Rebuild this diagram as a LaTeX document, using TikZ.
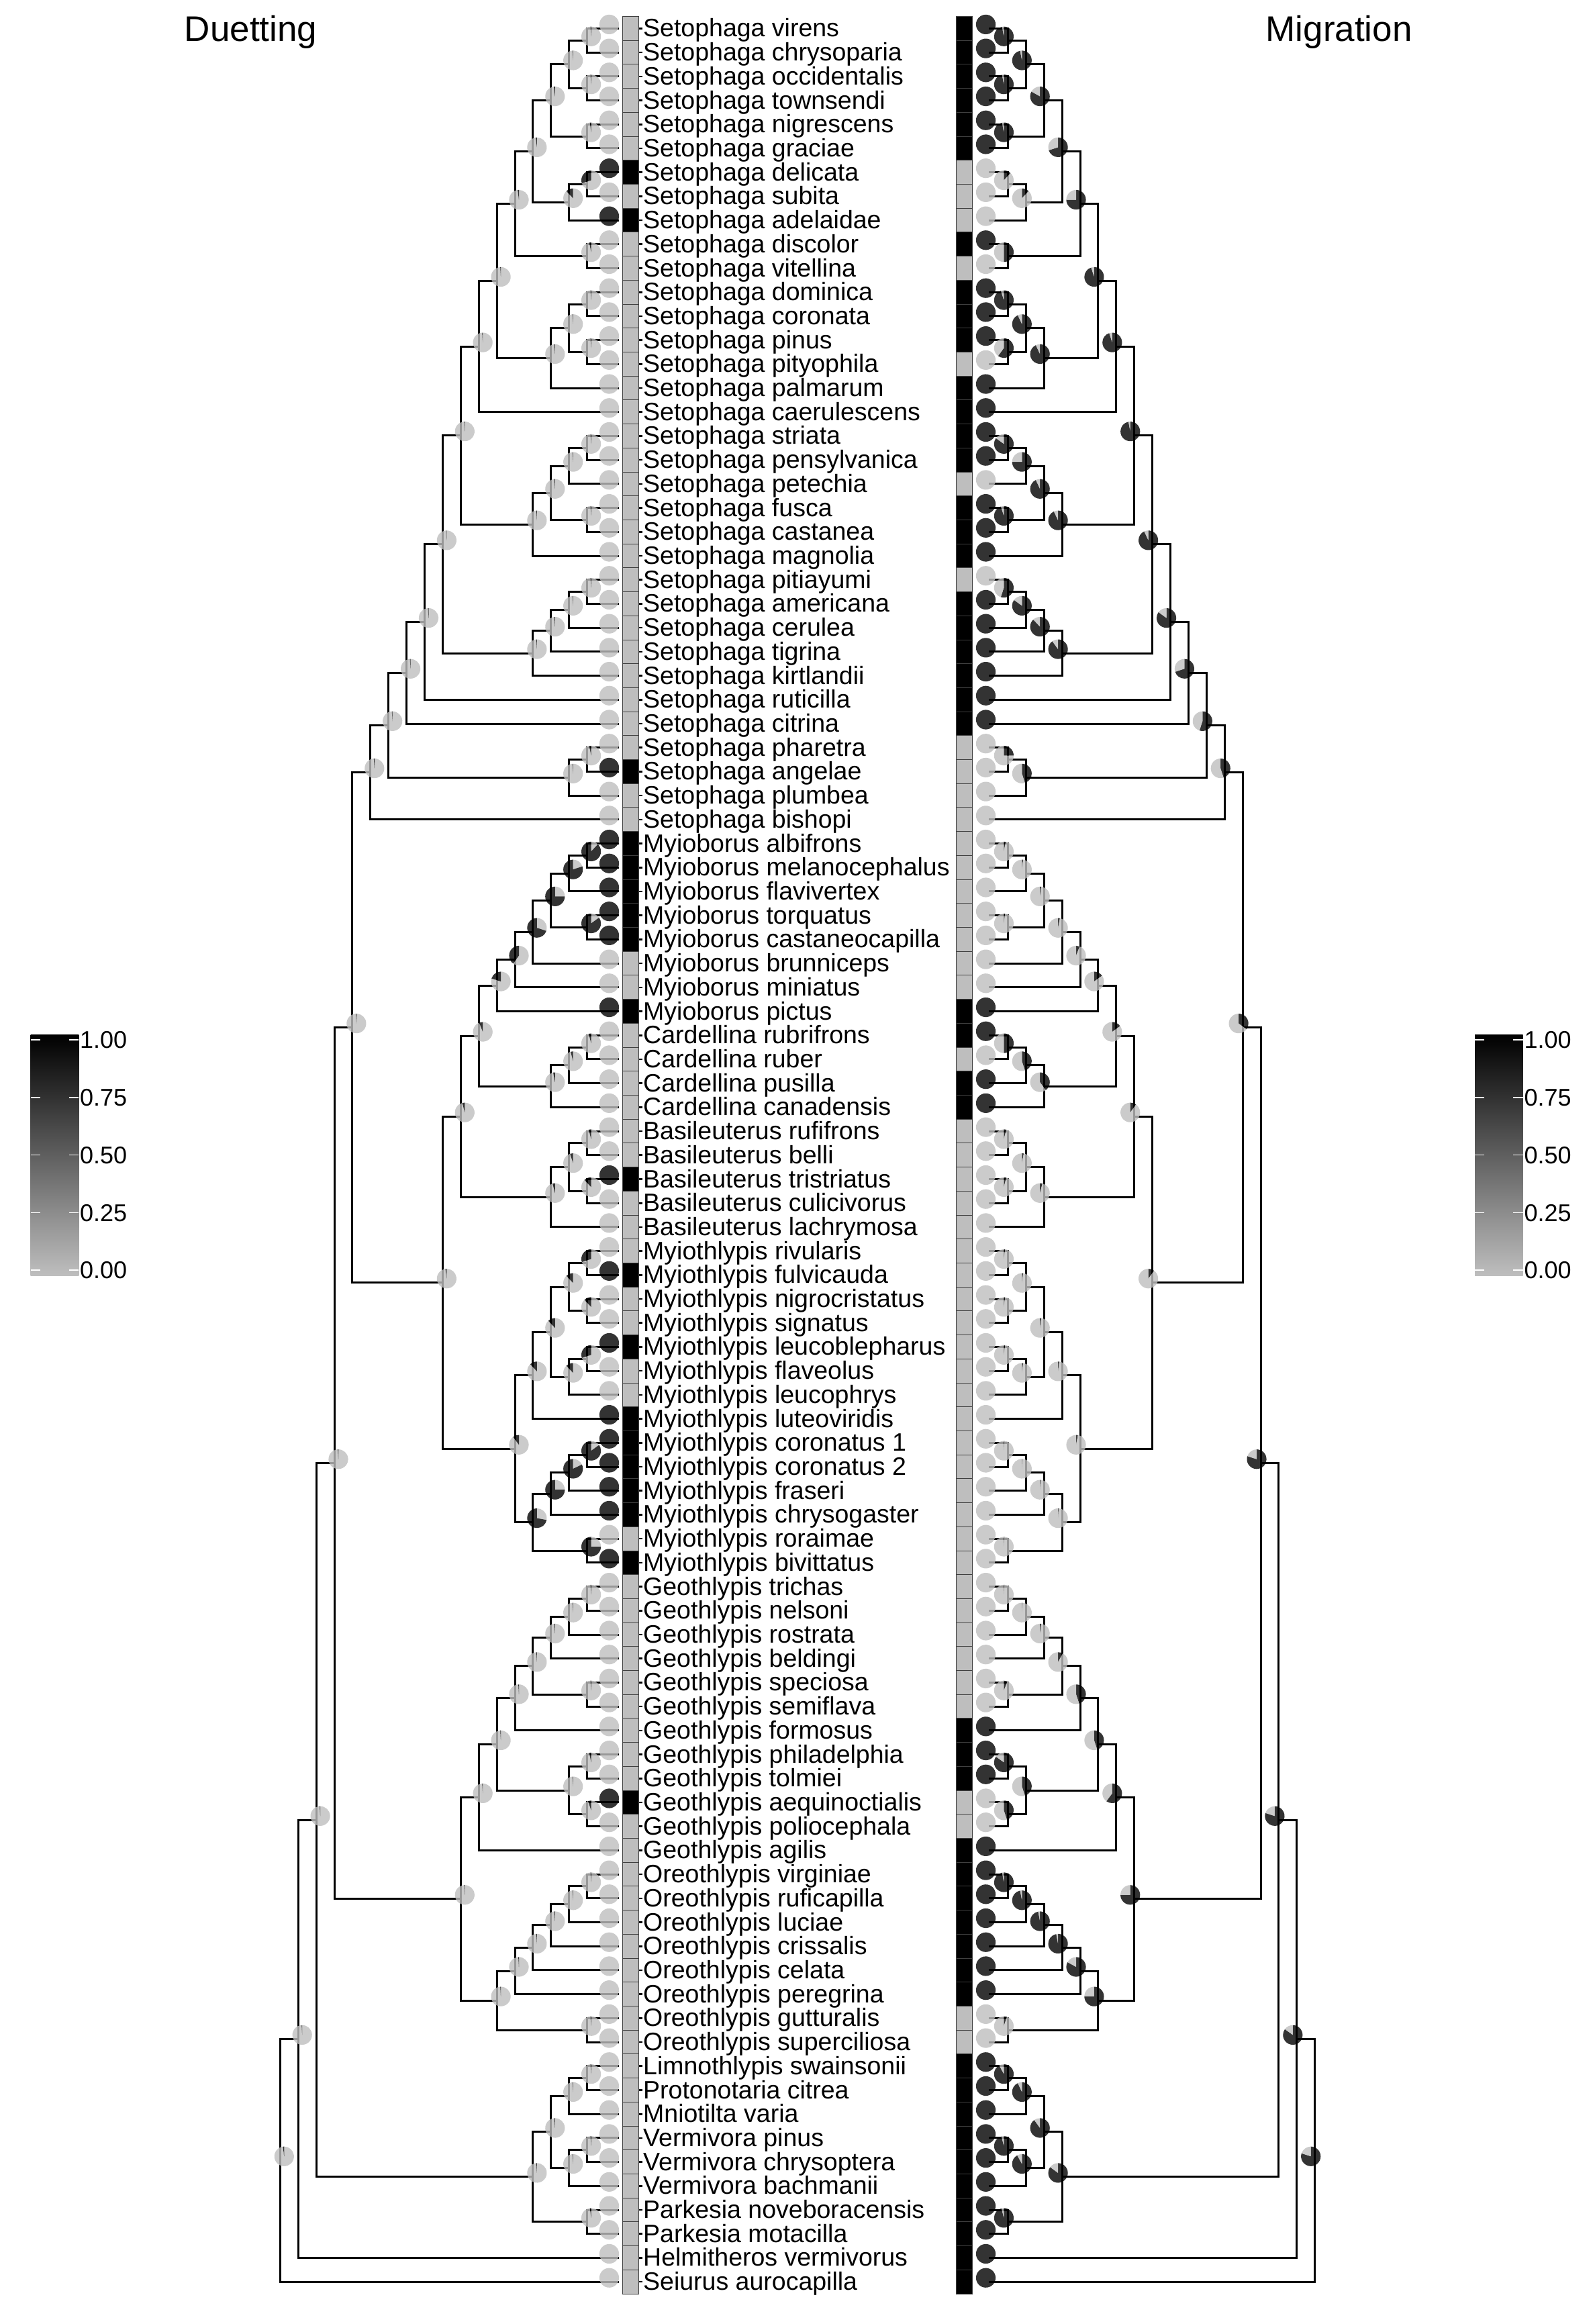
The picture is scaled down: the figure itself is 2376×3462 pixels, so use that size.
\documentclass[tikz,border=0pt]{standalone}
\usepackage{fontspec}
\setmainfont{Liberation Sans}
\definecolor{lg}{HTML}{BEBEBE}
\tikzset{
  br/.style={line width=3pt, line join=miter, line cap=rect},
  pg/.style={fill=lg, fill opacity=0.8},
  pk/.style={fill=black, fill opacity=0.8},
  sqbox/.style={draw=black!75, line width=1pt},
  lab/.style={font=\fontsize{37.5}{40}\selectfont, inner sep=0pt, anchor=base west},
  legtxt/.style={font=\fontsize{36}{40}\selectfont, inner sep=0pt, anchor=base west},
  ttl/.style={font=\fontsize{53}{56}\selectfont, inner sep=0pt, anchor=base west},
  tick/.style={white, line width=1.5pt},
}
\newcommand\pieRad{14.6}
% name, height, child1, child2, black fraction (duetting), black fraction (migration)
\newcommand\TREE{%
\nd{a12}{1}{t1}{t2}{0.01}{0.97}%
\nd{a34}{1}{t3}{t4}{0.01}{0.97}%
\nd{aA}{2}{a12}{a34}{0.01}{0.97}%
\nd{a56}{1}{t5}{t6}{0.02}{0.97}%
\nd{aB}{3}{aA}{a56}{0.02}{0.83}%
\nd{a78}{1}{t7}{t8}{0.3}{0.12}%
\nd{aC}{2}{a78}{t9}{0.12}{0.12}%
\nd{aD}{4}{aB}{aC}{0.02}{0.7}%
\nd{a1011}{1}{t10}{t11}{0.03}{0.5}%
\nd{aE}{5}{aD}{a1011}{0.02}{0.75}%
\nd{a1213}{1}{t12}{t13}{0.01}{0.95}%
\nd{a1415}{1}{t14}{t15}{0.01}{0.6}%
\nd{aFb}{2}{a1213}{a1415}{0.01}{0.93}%
\nd{aF}{3}{aFb}{t16}{0.01}{0.93}%
\nd{aG}{6}{aE}{aF}{0.01}{0.95}%
\nd{aH}{7}{aG}{t17}{0.01}{0.95}%
\nd{a1819}{1}{t18}{t19}{0.01}{0.85}%
\nd{aI}{2}{a1819}{t20}{0.01}{0.75}%
\nd{a2122}{1}{t21}{t22}{0.01}{0.95}%
\nd{aJ}{3}{aI}{a2122}{0.01}{0.93}%
\nd{aK}{4}{aJ}{t23}{0.01}{0.93}%
\nd{aL}{8}{aH}{aK}{0.01}{0.97}%
\nd{a2425}{1}{t24}{t25}{0.01}{0.55}%
\nd{aMb}{2}{a2425}{t26}{0.01}{0.85}%
\nd{aMc}{3}{aMb}{t27}{0.01}{0.88}%
\nd{aM}{4}{aMc}{t28}{0.01}{0.9}%
\nd{aN}{9}{aL}{aM}{0.01}{0.93}%
\nd{aO}{10}{aN}{t29}{0.01}{0.85}%
\nd{aP}{11}{aO}{t30}{0.01}{0.7}%
\nd{a3132}{1}{t31}{t32}{0.03}{0.25}%
\nd{aQ}{2}{a3132}{t33}{0.01}{0.45}%
\nd{aR}{12}{aP}{aQ}{0.01}{0.55}%
\nd{aS}{13}{aR}{t34}{0.01}{0.45}%
\nd{b3536}{1}{t35}{t36}{0.88}{0.03}%
\nd{bTb}{2}{b3536}{t37}{0.8}{0.02}%
\nd{b3839}{1}{t38}{t39}{0.85}{0.02}%
\nd{bT}{3}{bTb}{b3839}{0.75}{0.02}%
\nd{bU}{4}{bT}{t40}{0.7}{0.03}%
\nd{bV}{5}{bU}{t41}{0.4}{0.06}%
\nd{bW}{6}{bV}{t42}{0.2}{0.15}%
\nd{b4344}{1}{t43}{t44}{0.04}{0.5}%
\nd{bXb}{2}{b4344}{t45}{0.04}{0.45}%
\nd{bX}{3}{bXb}{t46}{0.03}{0.4}%
\nd{bY}{7}{bW}{bX}{0.06}{0.15}%
\nd{b4748}{1}{t47}{t48}{0.04}{0.04}%
\nd{b4950}{1}{t49}{t50}{0.12}{0.04}%
\nd{bZb}{2}{b4748}{b4950}{0.05}{0.03}%
\nd{bZ}{3}{bZb}{t51}{0.04}{0.04}%
\nd{bAA}{8}{bY}{bZ}{0.04}{0.1}%
\nd{c5253}{1}{t52}{t53}{0.3}{0.02}%
\nd{c5455}{1}{t54}{t55}{0.12}{0.02}%
\nd{cA}{2}{c5253}{c5455}{0.12}{0.02}%
\nd{c5657}{1}{t56}{t57}{0.3}{0.02}%
\nd{cB}{2}{c5657}{t58}{0.12}{0.02}%
\nd{cC}{3}{cA}{cB}{0.12}{0.02}%
\nd{cD}{4}{cC}{t59}{0.12}{0.02}%
\nd{c6061}{1}{t60}{t61}{0.85}{0.01}%
\nd{cEb}{2}{c6061}{t62}{0.82}{0.01}%
\nd{cEc}{3}{cEb}{t63}{0.75}{0.01}%
\nd{c6465}{1}{t64}{t65}{0.75}{0.01}%
\nd{cE}{4}{cEc}{c6465}{0.72}{0.01}%
\nd{cF}{5}{cD}{cE}{0.1}{0.03}%
\nd{bAB}{9}{bAA}{cF}{0.02}{0.1}%
\nd{aSn}{14}{aS}{bAB}{0.01}{0.35}%
\nd{d6667}{1}{t66}{t67}{0.01}{0.01}%
\nd{dGb}{2}{d6667}{t68}{0.01}{0.01}%
\nd{dGc}{3}{dGb}{t69}{0.01}{0.02}%
\nd{d7071}{1}{t70}{t71}{0.01}{0.06}%
\nd{dGd}{4}{dGc}{d7071}{0.01}{0.08}%
\nd{dGe}{5}{dGd}{t72}{0.01}{0.45}%
\nd{d7374}{1}{t73}{t74}{0.03}{0.85}%
\nd{d7576}{1}{t75}{t76}{0.05}{0.45}%
\nd{dGf}{2}{d7374}{d7576}{0.01}{0.45}%
\nd{dG}{6}{dGe}{dGf}{0.01}{0.45}%
\nd{dH}{7}{dG}{t77}{0.01}{0.6}%
\nd{e7879}{1}{t78}{t79}{0.01}{0.97}%
\nd{eJb}{2}{e7879}{t80}{0.01}{0.97}%
\nd{eJc}{3}{eJb}{t81}{0.01}{0.97}%
\nd{eJd}{4}{eJc}{t82}{0.01}{0.97}%
\nd{eJe}{5}{eJd}{t83}{0.01}{0.83}%
\nd{e8485}{1}{t84}{t85}{0.01}{0.05}%
\nd{eJ}{6}{eJe}{e8485}{0.01}{0.75}%
\nd{eI}{8}{dH}{eJ}{0.01}{0.75}%
\nd{fK}{15}{aSn}{eI}{0.01}{0.8}%
\nd{g8687}{1}{t86}{t87}{0.01}{0.92}%
\nd{gMa}{2}{g8687}{t88}{0.01}{0.93}%
\nd{g8990}{1}{t89}{t90}{0.01}{0.96}%
\nd{gMb}{2}{g8990}{t91}{0.01}{0.92}%
\nd{gMc}{3}{gMa}{gMb}{0.01}{0.9}%
\nd{g9293}{1}{t92}{t93}{0.02}{0.96}%
\nd{gM}{4}{gMc}{g9293}{0.01}{0.85}%
\nd{fL}{16}{fK}{gM}{0.01}{0.8}%
\nd{fN}{17}{fL}{t94}{0.01}{0.85}%
\nd{root}{18}{fN}{t95}{0.02}{0.8}%
}
\newcommand\pieL[2]{%
  \pgfmathsetmacro\pieEnd{-90-360*#2}%
  \fill[pg] ([xshift=6pt,yshift=6pt]#1) -- ++(\pieEnd:\pieRad) arc[start angle=\pieEnd,end angle=-450,radius=\pieRad] -- cycle;
  \fill[pk] ([xshift=6pt,yshift=6pt]#1) -- ++(-90:\pieRad) arc[start angle=-90,end angle=\pieEnd,radius=\pieRad] -- cycle;
}
\newcommand\pieR[2]{%
  \pgfmathsetmacro\pieEnd{-90+360*#2}%
  \fill[pk] ([xshift=-6pt,yshift=6pt]#1) -- ++(-90:\pieRad) arc[start angle=-90,end angle=\pieEnd,radius=\pieRad] -- cycle;
  \fill[pg] ([xshift=-6pt,yshift=6pt]#1) -- ++(\pieEnd:\pieRad) arc[start angle=\pieEnd,end angle=270,radius=\pieRad] -- cycle;
}
\begin{document}
\begin{tikzpicture}[x=1pt,y=-1pt]
\useasboundingbox (0,0) rectangle (2376,3462);
% ---- pass 1: tip and node vertical positions
\foreach \i in {1,...,95}{%
  \pgfmathsetmacro\yy{42.4+(\i-1)*35.71}%
  \expandafter\xdef\csname tvYt\i\endcsname{\yy}%
  \coordinate (Lt\i) at (920,\yy);
  \coordinate (Rt\i) at (1474.5,\yy);
}
\def\nd#1#2#3#4#5#6{%
  \edef\ya{\csname tvY#3\endcsname}\edef\yb{\csname tvY#4\endcsname}%
  \pgfmathsetmacro\yy{0.5*(\ya+\yb)}%
  \expandafter\xdef\csname tvY#1\endcsname{\yy}%
  \pgfmathsetmacro\xa{901.5-26.9*#2}\pgfmathsetmacro\xb{1474.5+26.9*#2}%
  \coordinate (L#1) at (\xa,\yy);
  \coordinate (R#1) at (\xb,\yy);
}
\TREE
% ---- branches
\def\nd#1#2#3#4#5#6{%
  \draw[br] (L#3) -| (L#1) |- (L#4);
  \draw[br] (R#3) -| (R#1) |- (R#4);
}
\TREE
% ---- tips: circles, squares, labels
\foreach \i/\d/\m/\nm in {
1/0/1/Setophaga virens, 2/0/1/Setophaga chrysoparia, 3/0/1/Setophaga occidentalis,
4/0/1/Setophaga townsendi, 5/0/1/Setophaga nigrescens, 6/0/1/Setophaga graciae,
7/1/0/Setophaga delicata, 8/0/0/Setophaga subita, 9/1/0/Setophaga adelaidae,
10/0/1/Setophaga discolor, 11/0/0/Setophaga vitellina, 12/0/1/Setophaga dominica,
13/0/1/Setophaga coronata, 14/0/1/Setophaga pinus, 15/0/0/Setophaga pityophila,
16/0/1/Setophaga palmarum, 17/0/1/Setophaga caerulescens, 18/0/1/Setophaga striata,
19/0/1/Setophaga pensylvanica, 20/0/0/Setophaga petechia, 21/0/1/Setophaga fusca,
22/0/1/Setophaga castanea, 23/0/1/Setophaga magnolia, 24/0/0/Setophaga pitiayumi,
25/0/1/Setophaga americana, 26/0/1/Setophaga cerulea, 27/0/1/Setophaga tigrina,
28/0/1/Setophaga kirtlandii, 29/0/1/Setophaga ruticilla, 30/0/1/Setophaga citrina,
31/0/0/Setophaga pharetra, 32/1/0/Setophaga angelae, 33/0/0/Setophaga plumbea,
34/0/0/Setophaga bishopi, 35/1/0/Myioborus albifrons, 36/1/0/Myioborus melanocephalus,
37/1/0/Myioborus flavivertex, 38/1/0/Myioborus torquatus, 39/1/0/Myioborus castaneocapilla,
40/0/0/Myioborus brunniceps, 41/0/0/Myioborus miniatus, 42/1/1/Myioborus pictus,
43/0/1/Cardellina rubrifrons, 44/0/0/Cardellina ruber, 45/0/1/Cardellina pusilla,
46/0/1/Cardellina canadensis, 47/0/0/Basileuterus rufifrons, 48/0/0/Basileuterus belli,
49/1/0/Basileuterus tristriatus, 50/0/0/Basileuterus culicivorus, 51/0/0/Basileuterus lachrymosa,
52/0/0/Myiothlypis rivularis, 53/1/0/Myiothlypis fulvicauda, 54/0/0/Myiothlypis nigrocristatus,
55/0/0/Myiothlypis signatus, 56/1/0/Myiothlypis leucoblepharus, 57/0/0/Myiothlypis flaveolus,
58/0/0/Myiothlypis leucophrys, 59/1/0/Myiothlypis luteoviridis, 60/1/0/Myiothlypis coronatus 1,
61/1/0/Myiothlypis coronatus 2, 62/1/0/Myiothlypis fraseri, 63/1/0/Myiothlypis chrysogaster,
64/0/0/Myiothlypis roraimae, 65/1/0/Myiothlypis bivittatus, 66/0/0/Geothlypis trichas,
67/0/0/Geothlypis nelsoni, 68/0/0/Geothlypis rostrata, 69/0/0/Geothlypis beldingi,
70/0/0/Geothlypis speciosa, 71/0/0/Geothlypis semiflava, 72/0/1/Geothlypis formosus,
73/0/1/Geothlypis philadelphia, 74/0/1/Geothlypis tolmiei, 75/1/0/Geothlypis aequinoctialis,
76/0/0/Geothlypis poliocephala, 77/0/1/Geothlypis agilis, 78/0/1/Oreothlypis virginiae,
79/0/1/Oreothlypis ruficapilla, 80/0/1/Oreothlypis luciae, 81/0/1/Oreothlypis crissalis,
82/0/1/Oreothlypis celata, 83/0/1/Oreothlypis peregrina, 84/0/0/Oreothlypis gutturalis,
85/0/0/Oreothlypis superciliosa, 86/0/1/Limnothlypis swainsonii, 87/0/1/Protonotaria citrea,
88/0/1/Mniotilta varia, 89/0/1/Vermivora pinus, 90/0/1/Vermivora chrysoptera,
91/0/1/Vermivora bachmanii, 92/0/1/Parkesia noveboracensis, 93/0/1/Parkesia motacilla,
94/0/1/Helmitheros vermivorus, 95/0/1/Seiurus aurocapilla}{%
  \pgfmathsetmacro\yy{42.4+(\i-1)*35.71}%
  \ifnum\d=1 \def\cd{black}\else\def\cd{lg}\fi
  \ifnum\m=1 \def\cm{black}\else\def\cm{lg}\fi
  \fill[fill=\cd, fill opacity=0.8] (907.5,\yy-6) circle[radius=\pieRad];
  \fill[fill=\cm, fill opacity=0.8] (1468.5,\yy-6) circle[radius=\pieRad];
  \draw[sqbox, fill=\cd] (927.5,\yy-17.855) rectangle (951.5,\yy+17.855);
  \draw[sqbox, fill=\cm] (1424.5,\yy-17.855) rectangle (1448.5,\yy+17.855);
  \draw[line width=2.6pt] (952,\yy) -- (957,\yy);
  \node[lab] (lab\i) at (958,\yy+12.5) {\nm};
}
% ---- node pies
\def\nd#1#2#3#4#5#6{\pieL{L#1}{#5}\pieR{R#1}{#6}}
\TREE
% ---- titles
\node[ttl] (tD) at (274.6,61.7) {Duetting};
\node[ttl] (tM) at (1885.4,61.7) {Migration};
% ---- legends
\shade[top color=black, bottom color=lg] (45.7,1541) rectangle (117.3,1900);
\shade[top color=black, bottom color=lg] (2197,1541) rectangle (2268.6,1900);
\foreach \k/\t in {0/1.00,1/0.75,2/0.50,3/0.25,4/0.00}{%
  \pgfmathsetmacro\ty{1549+85.75*\k}%
  \draw[tick] (45.7,\ty) -- (60,\ty) (103,\ty) -- (117.3,\ty);
  \draw[tick] (2197,\ty) -- (2211.3,\ty) (2254.3,\ty) -- (2268.6,\ty);
  \node[legtxt] (lgl\k) at (119,\ty+12.9) {\t};
  \node[legtxt] (lgr\k) at (2270.3,\ty+12.9) {\t};
}
\end{tikzpicture}
\end{document}
